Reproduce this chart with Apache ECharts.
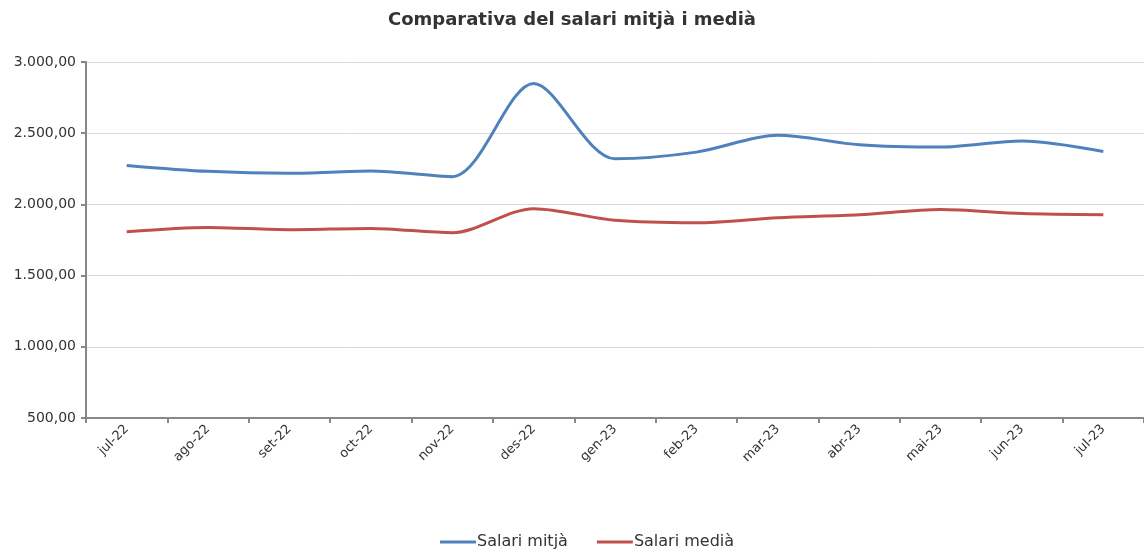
<!DOCTYPE html>
<html>
<head>
<meta charset="utf-8">
<script src="https://cdn.jsdelivr.net/npm/echarts@6/dist/echarts.min.js"></script>
<style>
html,body{margin:0;padding:0;background:#fff;}
#c{width:1144px;height:554px;}
</style>
</head>
<body>
<div id="c"></div>
<script>
const title = 'Comparativa del salari mitjà i medià';
const categories = ['jul-22','ago-22','set-22','oct-22','nov-22','des-22','gen-23','feb-23','mar-23','abr-23','mai-23','jun-23','jul-23'];
const seriesNames = ['Salari mitjà','Salari medià'];
const salariMitja = [2274, 2232, 2218, 2234, 2195, 2849, 2320, 2367, 2485, 2419, 2403, 2446, 2372];
const salariMedia = [1808, 1838, 1822, 1831, 1801, 1970, 1888, 1871, 1906, 1927, 1964, 1936, 1928];
const yMin = 500, yMax = 3000, yStep = 500;

function fmt(v){
  const parts = v.toFixed(2).split('.');
  const intPart = parts[0].replace(/\B(?=(\d{3})+(?!\d))/g, '.');
  return intPart + ',' + parts[1];
}

const chart = echarts.init(document.getElementById('c'), null, {renderer:'canvas'});
const font = 'DejaVu Sans, Verdana, sans-serif';
chart.setOption({
  animation:false,
  backgroundColor:'#ffffff',
  title:{
    text:title, left:'center', top:6,
    textStyle:{fontFamily:font, fontSize:18, fontWeight:'bold', color:'#333333'}
  },
  legend:{
    bottom:-1, left:435,
    itemWidth:36, itemHeight:3, itemGap:29,
    icon:'rect',
    textStyle:{fontFamily:font, fontSize:16, color:'#333333', padding:[0,0,0,-4]},
    data:seriesNames
  },
  grid:{left:86, right:-1, top:62, bottom:136, containLabel:false},
  xAxis:{
    type:'category', data:categories, boundaryGap:true,
    axisLine:{lineStyle:{color:'#878787', width:2}},
    axisTick:{show:true, length:5, lineStyle:{color:'#878787', width:2}},
    axisLabel:{rotate:45, fontFamily:font, fontSize:13, color:'#333333', margin:9, interval:0}
  },
  yAxis:{
    type:'value', min:yMin, max:yMax, interval:yStep,
    axisLine:{show:true, lineStyle:{color:'#878787', width:2}},
    axisTick:{show:true, length:5, lineStyle:{color:'#878787', width:2}},
    splitLine:{lineStyle:{color:'#d9d9d9', width:1}},
    axisLabel:{fontFamily:font, fontSize:14, color:'#333333', margin:10, formatter:fmt}
  },
  series:[
    {name:seriesNames[0], type:'line', data:salariMitja, smooth:0.3, showSymbol:false,
     lineStyle:{color:'#4F81BD', width:3}, itemStyle:{color:'#4F81BD'}},
    {name:seriesNames[1], type:'line', data:salariMedia, smooth:0.3, showSymbol:false,
     lineStyle:{color:'#C0504D', width:3}, itemStyle:{color:'#C0504D'}}
  ]
});
</script>
</body>
</html>
